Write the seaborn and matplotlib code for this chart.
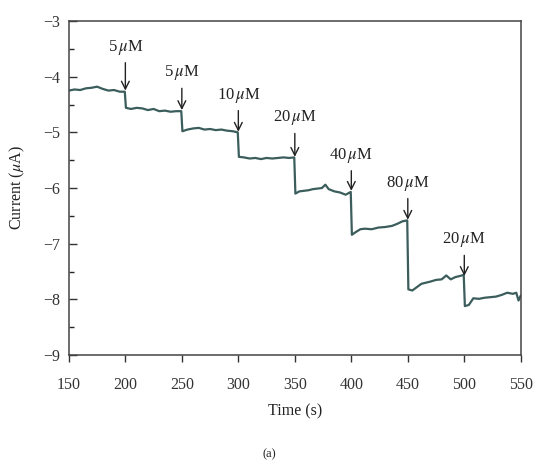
import numpy as np
import pandas as pd
import seaborn as sns
import matplotlib.pyplot as plt
from matplotlib.ticker import MultipleLocator

# Trace (time in s, current in uA)
time_s = [
    150, 155, 160, 165, 170, 175, 180, 185, 190, 195, 199.5,
    200.5, 205, 210, 215, 220, 225, 230, 235, 240, 245, 249.5,
    250.5, 255, 260, 265, 270, 275, 280, 285, 290, 295, 299.5,
    300.5, 305, 310, 315, 320, 325, 330, 335, 340, 345, 349.5,
    350.5, 354, 358, 362, 366, 370, 374, 377, 380, 385, 390, 395, 399.5,
    400.5, 404, 408, 412, 418, 424, 430, 436, 441, 445, 449.5,
    450.5, 454, 458, 462, 466, 470, 475, 480, 484, 488, 492, 496, 499.5,
    500.5, 504, 508, 513, 518, 523, 528, 533, 538, 543, 546, 548, 550,
]
current_ua = [
    -4.25, -4.23, -4.24, -4.21, -4.20, -4.18, -4.22, -4.25, -4.24, -4.27, -4.27,
    -4.56, -4.58, -4.56, -4.57, -4.60, -4.58, -4.62, -4.61, -4.63, -4.62, -4.62,
    -4.98, -4.95, -4.93, -4.92, -4.95, -4.94, -4.96, -4.95, -4.97, -4.98, -5.00,
    -5.44, -5.45, -5.47, -5.46, -5.48, -5.46, -5.47, -5.46, -5.45, -5.46, -5.45,
    -6.10, -6.06, -6.05, -6.04, -6.02, -6.01, -6.00, -5.94, -6.02, -6.06, -6.08, -6.12, -6.07,
    -6.84, -6.79, -6.74, -6.73, -6.74, -6.71, -6.70, -6.68, -6.64, -6.60, -6.58,
    -7.82, -7.84, -7.78, -7.72, -7.70, -7.68, -7.65, -7.64, -7.57, -7.64, -7.60, -7.58, -7.56,
    -8.12, -8.10, -7.98, -7.99, -7.97, -7.96, -7.95, -7.92, -7.88, -7.90, -7.88, -8.02, -7.93,
]

# Additions: label, injection time, text level, arrow tip level
add_labels = ["5", "5", "10", "20", "40", "80", "20"]
add_times = [200, 250, 300, 350, 400, 450, 500]
text_levels = [-3.47, -3.93, -4.33, -4.74, -5.41, -5.91, -6.93]
tip_levels = [-4.25, -4.60, -4.99, -5.44, -6.05, -6.57, -7.58]

df = pd.DataFrame({"Time": time_s, "Current": current_ua})

sns.set_theme(style="ticks")
plt.rcParams['font.family'] = ['Liberation Serif', 'DejaVu Serif']
plt.rcParams['mathtext.fontset'] = 'stix'

fig = plt.figure(figsize=(5.38, 4.66), dpi=100)
ax = fig.add_axes([0.128, 0.238, 0.840, 0.717])

sns.lineplot(data=df, x="Time", y="Current", ax=ax, color="#3b5d5c",
             linewidth=1.6, estimator=None, sort=False)

for lab, t, ty, tip in zip(add_labels, add_times, text_levels, tip_levels):
    ax.annotate(lab + r"$\,\mu$M", xy=(t, tip), xytext=(t, ty),
                ha="center", va="center", fontsize=12, color="#222222",
                arrowprops=dict(arrowstyle="->", color="#222222", lw=1.0,
                                shrinkA=2, shrinkB=0, mutation_scale=14))

ax.set_xlim(150, 550)
ax.set_ylim(-9, -3)
ax.xaxis.set_major_locator(MultipleLocator(50))
ax.yaxis.set_major_locator(MultipleLocator(1))
ax.yaxis.set_minor_locator(MultipleLocator(0.5))

ax.tick_params(axis="x", direction="out", length=5, width=1, pad=11,
               labelsize=11.5, colors="#333333")
ax.tick_params(axis="y", which="major", direction="in", length=6, width=1,
               pad=6, labelsize=11.5, colors="#333333")
ax.tick_params(axis="y", which="minor", direction="in", length=3.5, width=1)
for s in ax.spines.values():
    s.set_color("#444444")
    s.set_linewidth(1.1)

ax.set_xlabel("Time (s)", fontsize=11.5, color="#222222")
ax.set_ylabel(r"Current ($\mu$A)", fontsize=11.5, color="#222222")
ax.xaxis.set_label_coords(0.5, -0.145)
ax.yaxis.set_label_coords(-0.093, 0.5)

fig.text(0.5, 0.012, "(a)", ha="center", va="bottom", fontsize=9, color="#222222")

fig.savefig("out.png", dpi=100)
